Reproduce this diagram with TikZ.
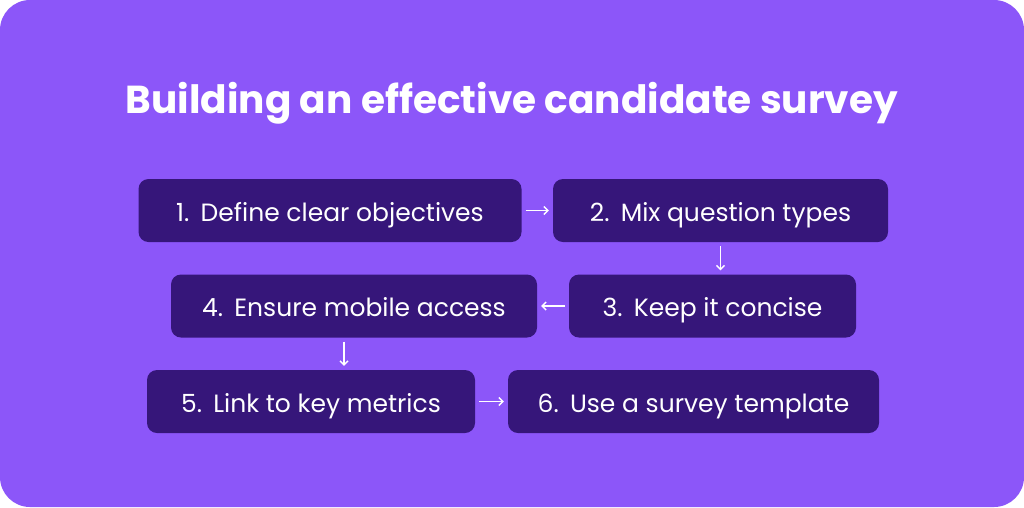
\documentclass[tikz,border=0pt]{standalone}
\usepackage{fontspec}
\setmainfont{Poppins}
\usetikzlibrary{arrows.meta}
\definecolor{bgpurple}{HTML}{8C56F9}
\definecolor{boxpurple}{HTML}{36167A}
\newcommand{\num}[1]{#1.\hspace{0.45em}}
\tikzset{
  stepbox/.style={fill=boxpurple, rounded corners=10pt, text=white,
    minimum height=63pt, inner sep=0pt, text height=23pt, text depth=2pt,
    font=\fontsize{25}{30}\selectfont},
  flow/.style={draw=white, line width=1.4pt, -{Straight Barb[length=4pt,width=8pt]},
    shorten <=4pt, shorten >=4pt}
}
\begin{document}
\begin{tikzpicture}[x=1pt, y=-1pt]
  \useasboundingbox (0,0) rectangle (1024,507);
  \fill[white] (0,0) rectangle (1024,507);
  \fill[bgpurple, rounded corners=30pt] (0,0) rectangle (1024,507);
  \node[text=white, anchor=base, inner sep=0pt, font=\fontsize{39}{44}\bfseries\selectfont] (title) at (512,113) {Building an effective candidate survey};
  \node[stepbox, minimum width=383pt] (1) at (330,210.5) {\num{1}Define clear objectives};
  \node[stepbox, minimum width=335pt] (2) at (720.5,210.5) {\num{2}Mix question types};
  \node[stepbox, minimum width=287pt] (3) at (712.5,306) {\num{3}Keep it concise};
  \node[stepbox, minimum width=366pt] (4) at (354,306) {\num{4}Ensure mobile access};
  \node[stepbox, minimum width=328pt] (5) at (311,401.5) {\num{5}Link to key metrics};
  \node[stepbox, minimum width=371pt] (6) at (693.5,401.5) {\num{6}Use a survey template};
  \begin{scope}[flow]
    \draw (1) to (2);
    \draw (2.south) to (2.south |- 3.north);
    \draw (3) to (4);
    \draw ([xshift=-10pt]4.south) to ([xshift=-10pt]4.south |- 5.north);
    \draw (5) to (6);
  \end{scope}
\end{tikzpicture}
\end{document}
